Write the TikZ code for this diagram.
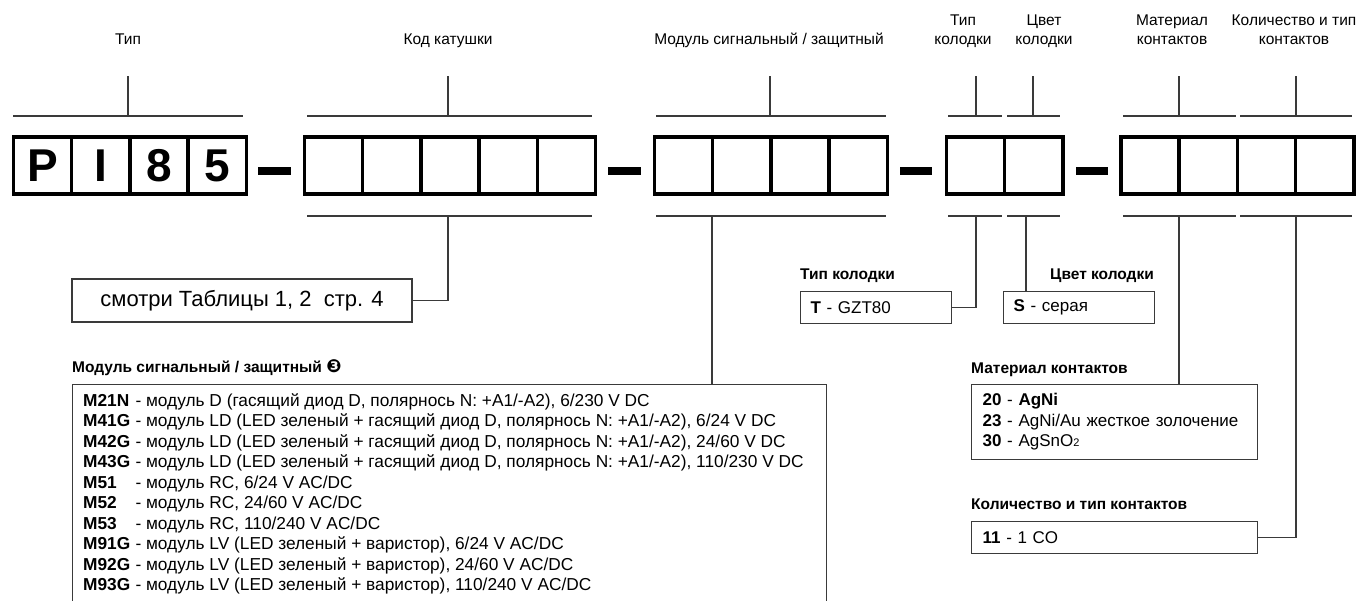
\documentclass[tikz,border=0pt]{standalone}
\usepackage{fontspec}
\setmainfont{Liberation Sans}
\newfontfamily\dingfont{DejaVu Sans}
\definecolor{linegray}{HTML}{3A3A3A}
\newcommand{\fs}[2]{\fontsize{#1}{#2}\selectfont}
\newcommand{\modcode}[1]{\makebox[47.5pt][l]{\textbf{#1}}}

\begin{document}
\begin{tikzpicture}[x=1pt, y=-1pt,
    cell/.style ={draw, line width=3.5, minimum width=58.2, minimum height=57, inner sep=0, font=\fs{46}{46}\bfseries},
    field/.style ={align=center, anchor=base, inner sep=0, font=\fs{15.5}{19}},
    bracket/.style ={draw=linegray, line width=1.2},
    sepbar/.style ={line width=8},
    infobox/.style ={draw=linegray, line width=1.2, inner sep=0},
    heading/.style ={anchor=base west, inner sep=0, font=\fs{15.5}{18}\bfseries}]
   \path[use as bounding box, fill=white] (0,0) rectangle (1359,601);

   % field labels
   \node[field] (typelab)  at (128,44.5)  {Тип};
   \node[field] (coillab)  at (448,44.5)  {Код катушки};
   \node[field] (modlab)   at (769,44.5)  {Модуль сигнальный / защитный};
   \node[field] (socklab)  at (963,44.5)  {Тип\\колодки};
   \node[field] (collab)   at (1044,44.5) {Цвет\\колодки};
   \node[field] (matlab)   at (1172,44.5) {Материал\\контактов};
   \node[field] (numlab)   at (1294,44.5) {Количество и тип\\контактов};

   % code cells
   \node[cell] (p1) at (42.6,165.5)  {P};
   \node[cell] (p2) at (100.8,165.5) {I};
   \node[cell] (p3) at (159.0,165.5) {8};
   \node[cell] (p4) at (217.2,165.5) {5};

   \node[cell] (k1) at (333.6,165.5) {};
   \node[cell] (k2) at (391.8,165.5) {};
   \node[cell] (k3) at (450.0,165.5) {};
   \node[cell] (k4) at (508.2,165.5) {};
   \node[cell] (k5) at (566.4,165.5) {};

   \node[cell] (m1) at (683.6,165.5) {};
   \node[cell] (m2) at (741.8,165.5) {};
   \node[cell] (m3) at (800.0,165.5) {};
   \node[cell] (m4) at (858.2,165.5) {};

   \node[cell] (s1) at (975.6,165.5)  {};
   \node[cell] (s2) at (1033.8,165.5) {};

   \node[cell] (c1) at (1150.1,165.5) {};
   \node[cell] (c2) at (1208.3,165.5) {};
   \node[cell] (c3) at (1266.5,165.5) {};
   \node[cell] (c4) at (1324.7,165.5) {};

   \draw[sepbar] (258,171) -- (291,171);
   \draw[sepbar] (608,171) -- (641,171);
   \draw[sepbar] (900,171) -- (932,171);
   \draw[sepbar] (1076,171) -- (1108,171);

   % brackets above
   \draw[bracket] (13,116) -- (243,116) (128,116) -- (128,76);
   \draw[bracket] (307,116) -- (592,116) (448,116) -- (448,76);
   \draw[bracket] (656,116) -- (886,116) (770,116) -- (770,76);
   \draw[bracket] (948,116) -- (1002,116) (976,116) -- (976,76);
   \draw[bracket] (1007,116) -- (1060,116) (1033,116) -- (1033,76);
   \draw[bracket] (1123,116) -- (1236,116) (1179,116) -- (1179,76);
   \draw[bracket] (1240,116) -- (1352,116) (1296,116) -- (1296,76);

   % brackets below
   \draw[bracket] (307,216) -- (592,216);
   \draw[bracket] (656,216) -- (886,216);
   \draw[bracket] (948,216) -- (1002,216);
   \draw[bracket] (1007,216) -- (1060,216);
   \draw[bracket] (1123,216) -- (1236,216);
   \draw[bracket] (1240,216) -- (1352,216);
   \coordinate (kt) at (448,216);
   \coordinate (mt) at (712,216);
   \coordinate (st) at (976,216);
   \coordinate (ct) at (1026,216);
   \coordinate (at) at (1179,216);
   \coordinate (nt) at (1296,216);

   % coil code
   \node[infobox, minimum width=340, minimum height=43, font=\fs{22}{26}] (see) at (242,300.5) {смотри Таблицы 1, 2~~стр. 4};
   \draw[bracket] (kt) |- (see.east);

   % socket type and colour
   \node[heading] (sockhead) at (800,279.5) {Тип колодки};
   \node[infobox, anchor=north west, minimum width=151, minimum height=32, text width=131, align=left, font=\fs{17}{20.5}] (sockbox) at (800,291) {\textbf{T} - GZT80};
   \draw[bracket] (st) |- (sockbox.east);

   \node[heading, anchor=base east] (colhead) at (1154,279.5) {Цвет колодки};
   \node[infobox, anchor=north west, minimum width=151, minimum height=32, text width=131, align=left, font=\fs{17}{20.5}] (colbox) at (1003,291) {\textbf{S} - серая};
   \draw[bracket] (ct) -- (ct |- colbox.north);

   % contact material
   \node[heading] (mathead) at (971,373.5) {Материал контактов};
   \node[infobox, anchor=north west, minimum width=286, minimum height=75, text width=264, align=left, font=\fs{17}{20.5}] (matbox) at (971,384)
     {\textbf{20} - \textbf{AgNi}\\\textbf{23} - AgNi/Au жесткое золочение\\\textbf{30} - AgSnO{\fs{11}{12}2}};
   \draw[bracket] (at) -- (at |- matbox.north);

   % number and type of contacts
   \node[heading] (numhead) at (971,509.5) {Количество и тип контактов};
   \node[infobox, anchor=north west, minimum width=286, minimum height=32, text width=264, align=left, font=\fs{17}{20.5}] (numbox) at (971,521) {\textbf{11} - 1 CO};
   \draw[bracket] (nt) |- (numbox.east);

   % signal / protection module
   \node[heading] (modhead) at (72,372.5) {Модуль сигнальный / защитный {\dingfont\fs{18}{18}❸}};
   \node[infobox, anchor=north west, minimum width=754, minimum height=230] (modbox) at (72,384) {};
   \node[anchor=north west, inner sep=0, align=left, font=\fs{17.3}{20.5}] (modlist) at (83,393) {%
     \modcode{M21N} - модуль D (гасящий диод D, полярнось N: +A1/-A2), 6/230 V DC\\
     \modcode{M41G} - модуль LD (LED зеленый + гасящий диод D, полярнось N: +A1/-A2), 6/24 V DC\\
     \modcode{M42G} - модуль LD (LED зеленый + гасящий диод D, полярнось N: +A1/-A2), 24/60 V DC\\
     \modcode{M43G} - модуль LD (LED зеленый + гасящий диод D, полярнось N: +A1/-A2), 110/230 V DC\\
     \modcode{M51} - модуль RC, 6/24 V AC/DC\\
     \modcode{M52} - модуль RC, 24/60 V AC/DC\\
     \modcode{M53} - модуль RC, 110/240 V AC/DC\\
     \modcode{M91G} - модуль LV (LED зеленый + варистор), 6/24 V AC/DC\\
     \modcode{M92G} - модуль LV (LED зеленый + варистор), 24/60 V AC/DC\\
     \modcode{M93G} - модуль LV (LED зеленый + варистор), 110/240 V AC/DC};
   \draw[bracket] (mt) -- (mt |- modbox.north);
\end{tikzpicture}
\end{document}
